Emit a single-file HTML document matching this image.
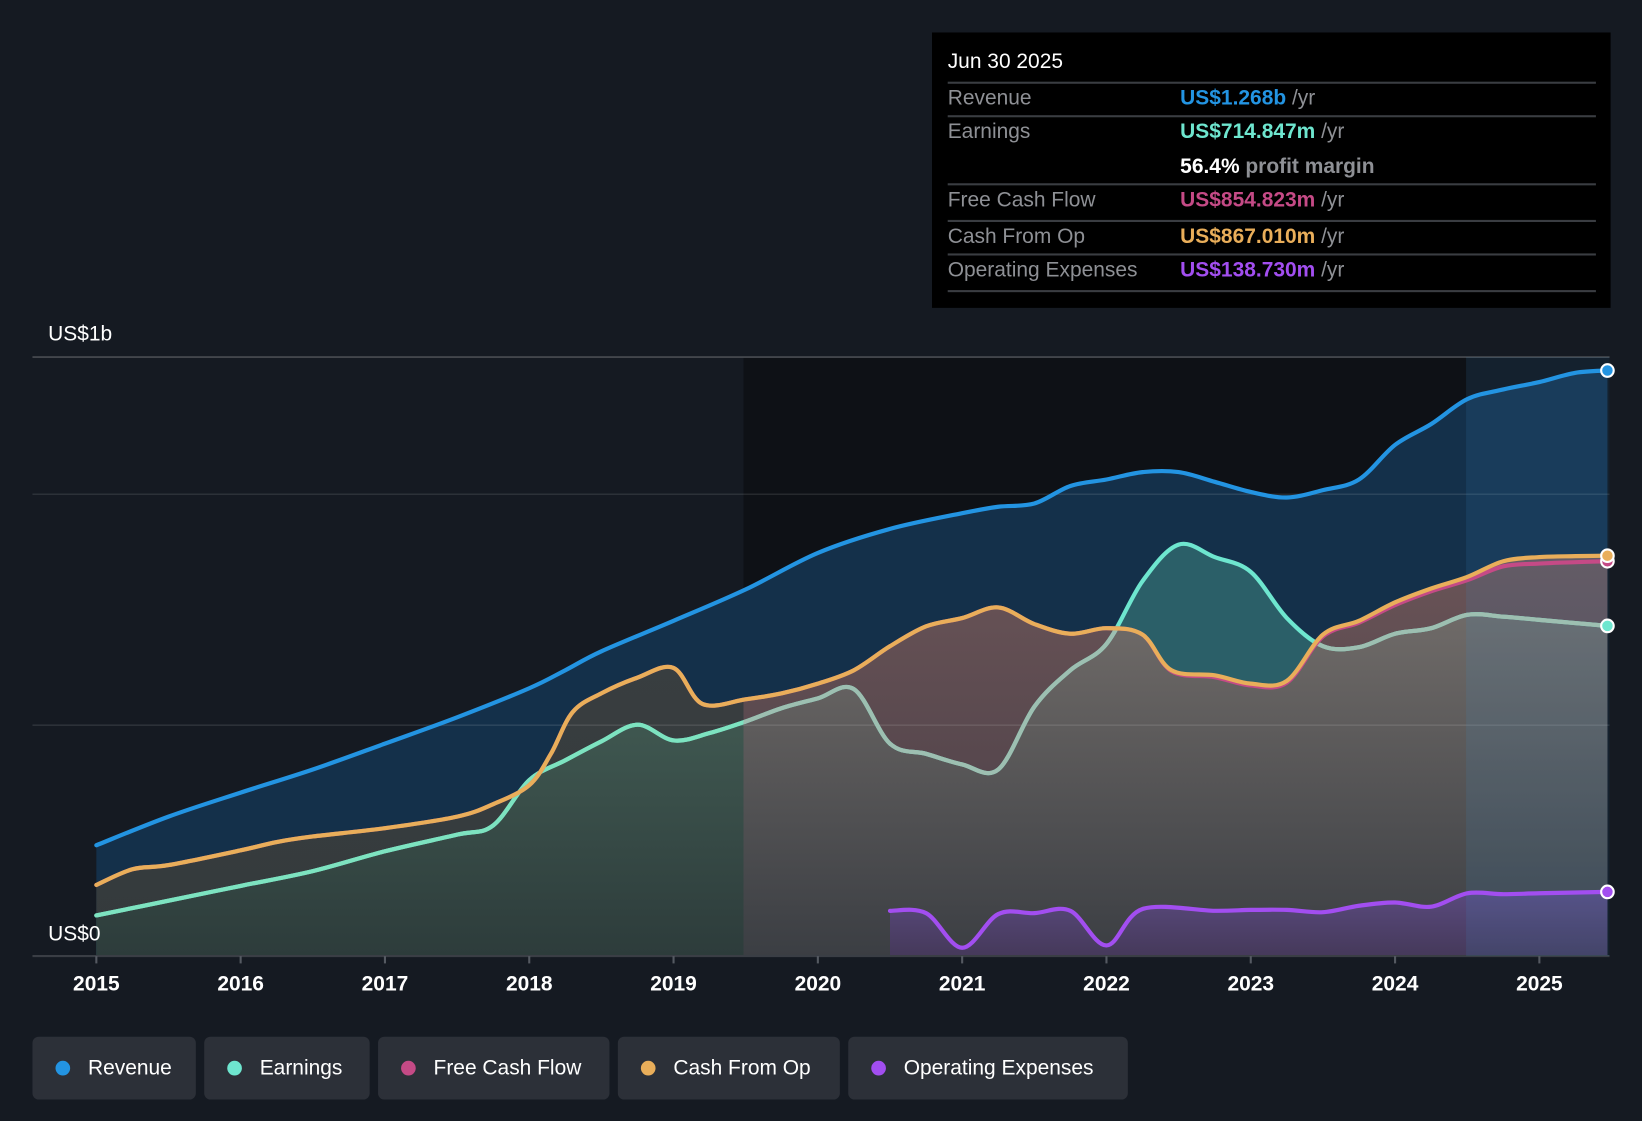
<!DOCTYPE html>
<html><head><meta charset="utf-8">
<style>
html,body{margin:0;padding:0;background:#151a22;width:1642px;height:1120px;overflow:hidden;font-family:"Liberation Sans",sans-serif;}
#wrap{position:absolute;left:0;top:0;width:1568px;height:1070px;transform:scale(1.04719);transform-origin:0 0;}
#tip{position:absolute;left:890px;top:31px;width:648px;height:263px;background:#000;}
#tip .row{position:absolute;left:15px;width:619px;border-top:2px solid #3a3d42;font-size:20px;color:#8e9095;}
#tip .lab{position:absolute;left:0;top:3px;}
#tip .val{position:absolute;left:222px;top:3px;font-weight:bold;}
#tip .u{color:#8e9095;font-weight:normal;}
.leg{position:absolute;top:990px;height:60px;background:#2c3038;border-radius:6px;color:#fff;font-size:20px;line-height:60px;}
.leg .dot{position:absolute;left:22px;top:23px;width:14px;height:14px;border-radius:50%;}
.leg span.t{position:absolute;left:53px;}
</style></head><body>
<div id="wrap">
<svg id="chart" width="1568" height="1070" style="position:absolute;left:0;top:0"></svg>
<div id="tip">
 <div style="position:absolute;left:15px;top:17px;color:#fff;font-size:20px;">Jun 30 2025</div>
 <div class="row" style="top:47px;height:32px"><span class="lab">Revenue</span><span class="val" style="color:#2394e2">US$1.268b <span class="u">/yr</span></span></div>
 <div class="row" style="top:79px;height:96px"><span class="lab">Earnings</span><span class="val" style="color:#6ee6cf">US$714.847m <span class="u">/yr</span></span><span class="val" style="top:36px;color:#fff">56.4% <span class="u" style="font-weight:bold">profit margin</span></span></div>
 <div class="row" style="top:144px;height:32px"><span class="lab">Free Cash Flow</span><span class="val" style="color:#c54a86">US$854.823m <span class="u">/yr</span></span></div>
 <div class="row" style="top:179px;height:32px"><span class="lab">Cash From Op</span><span class="val" style="color:#e9ae5a">US$867.010m <span class="u">/yr</span></span></div>
 <div class="row" style="top:211px;height:33px;border-bottom:2px solid #3a3d42"><span class="lab">Operating Expenses</span><span class="val" style="color:#a24ef0">US$138.730m <span class="u">/yr</span></span></div>
</div>
<div class="leg" style="left:31px;width:156px"><div class="dot" style="background:#2394e2"></div><span class="t">Revenue</span></div>
<div class="leg" style="left:195px;width:158px"><div class="dot" style="background:#6ee6cf"></div><span class="t">Earnings</span></div>
<div class="leg" style="left:361px;width:221px"><div class="dot" style="background:#c54a86"></div><span class="t">Free Cash Flow</span></div>
<div class="leg" style="left:590px;width:212px"><div class="dot" style="background:#e9ae5a"></div><span class="t">Cash From Op</span></div>
<div class="leg" style="left:810px;width:267px"><div class="dot" style="background:#a24ef0"></div><span class="t">Operating Expenses</span></div>
</div>
<script>
const revT=[2015,2015.5,2016,2016.5,2017,2017.5,2018,2018.25,2018.5,2019,2019.5,2020,2020.5,2021,2021.25,2021.5,2021.75,2022,2022.25,2022.5,2022.75,2023,2023.25,2023.5,2023.75,2024,2024.25,2024.5,2024.75,2025,2025.25,2025.5];
const revV=[240,302,354,404,460,517,580,619,660,726,794,873,925,959,973,980,1018,1032,1048,1048,1027,1005,993,1009,1032,1107,1152,1206,1227,1243,1263,1268];
const cfoT=[2015,2015.25,2015.5,2016,2016.25,2016.5,2017,2017.5,2017.75,2018,2018.15,2018.3,2018.5,2018.75,2019,2019.2,2019.5,2019.75,2020,2020.25,2020.5,2020.75,2021,2021.25,2021.5,2021.75,2022,2022.25,2022.45,2022.75,2023,2023.25,2023.5,2023.75,2024,2024.25,2024.5,2024.75,2025,2025.25,2025.5];
const cfoV=[154,188,197,229,247,259,277,302,329,370,438,528,569,603,624,546,556,569,590,619,671,714,732,755,719,698,710,696,619,608,590,596,696,726,766,796,821,855,864,866,867];
const fcfV=[154,188,197,229,247,259,277,302,329,370,438,528,569,603,624,546,556,569,590,619,671,714,732,755,719,698,710,696,617,604,586,592,692,722,760,790,814,844,850,853,855];
const earT=[2015,2015.5,2016,2016.5,2017,2017.5,2017.75,2018,2018.25,2018.5,2018.75,2019,2019.25,2019.5,2019.75,2020,2020.25,2020.5,2020.75,2021,2021.25,2021.5,2021.75,2022,2022.25,2022.5,2022.75,2023,2023.25,2023.5,2023.75,2024,2024.25,2024.5,2024.75,2025,2025.5];
const earV=[88,120,152,184,227,263,283,381,424,465,501,467,483,508,537,558,578,460,438,415,404,540,619,676,812,891,864,832,732,671,669,698,710,739,735,728,715];
const opxT=[2020.5,2020.75,2021,2021.25,2021.5,2021.75,2022,2022.25,2022.75,2023,2023.25,2023.5,2023.75,2024,2024.25,2024.5,2024.75,2025,2025.5];
const opxV=[98,93,18,91,93,98,23,102,98,100,100,95,109,116,107,136,134,136,139];
const xTicks=[2015,2016,2017,2018,2019,2020,2021,2022,2023,2024,2025];

const X=t=>92+(t-2015)*137.8, Y=v=>913-v*0.441;
const svg=document.getElementById('chart'),NS='http://www.w3.org/2000/svg';
function mk(tag,attrs,parent){const e=document.createElementNS(NS,tag);for(const k in attrs)e.setAttribute(k,attrs[k]);(parent||svg).appendChild(e);return e;}
function pts(T,V){return T.map((t,i)=>[Math.min(X(t),1535),Y(V[i])]);}
function curve(p){let d='M'+p[0][0]+','+p[0][1];for(let i=0;i<p.length-1;i++){const p0=p[i-1]||p[i],p1=p[i],p2=p[i+1],p3=p[i+2]||p2;
 const c1=[p1[0]+(p2[0]-p0[0])/6,p1[1]+(p2[1]-p0[1])/6],c2=[p2[0]-(p3[0]-p1[0])/6,p2[1]-(p3[1]-p1[1])/6];
 d+=` C${c1[0]},${c1[1]} ${c2[0]},${c2[1]} ${p2[0]},${p2[1]}`;}return d;}
function area(p){return curve(p)+` L${p[p.length-1][0]},913 L${p[0][0]},913 Z`;}
const defs=mk('defs',{});
function grad(id,c1,c2){const g=mk('linearGradient',{id,x1:0,y1:0,x2:0,y2:1},defs);mk('stop',{offset:0,'stop-color':c1},g);mk('stop',{offset:1,'stop-color':c2},g);}
grad('gCfo','#6a5457','#463c45');grad('gGray','#7a7470','#3b3e43');grad('gGreen','#4d6c60','#2d3c3b');grad('gOpx','#5a4a7e','#45395a');grad('gCfoL','#3a3f41','#343a3c');
const pRev=pts(revT,revV),pCfo=pts(cfoT,cfoV),pFcf=pts(cfoT,fcfV),pEar=pts(earT,earV),pOpx=pts(opxT,opxV);
const cp1=mk('clipPath',{id:'cpCfo'},defs);mk('path',{d:area(pCfo)},cp1);
const cpR=mk('clipPath',{id:'cpRight'},defs);mk('rect',{x:710,y:0,width:900,height:913},cpR);
const cpL=mk('clipPath',{id:'cpLeft'},defs);mk('rect',{x:0,y:0,width:710,height:913},cpL);

let e=mk('rect',{x:710,y:341,width:827,height:572,fill:'#0e1116'});
e=mk('path',{d:area(pRev),fill:'#14304a'});
e=mk('path',{d:area(pEar),fill:'#2b5f68'});
e=mk('path',{d:area(pCfo),fill:'url(#gCfo)','clip-path':'url(#cpRight)'});
e=mk('path',{d:area(pCfo),fill:'url(#gCfoL)','clip-path':'url(#cpLeft)'});
const gR=mk('g',{'clip-path':'url(#cpCfo)'});
e=mk('path',{d:area(pEar),fill:'url(#gGray)','clip-path':'url(#cpRight)'},gR);
e=mk('path',{d:area(pEar),fill:'url(#gGreen)','clip-path':'url(#cpLeft)'},gR);
e=mk('path',{d:area(pOpx),fill:'url(#gOpx)'});
[0,500,1000].forEach(v=>{const l=mk('line',{x1:31,x2:1537,y1:Y(v),y2:Y(v),stroke:v==0?'#3a3e45':'rgba(255,255,255,0.1)','stroke-width':v==0?2:1.5});});
e=mk('line',{x1:31,x2:1537,y1:341,y2:341,stroke:'#4a4d53','stroke-width':1.5});
e=mk('rect',{x:1400,y:341,width:137,height:572,fill:'rgba(60,150,210,0.13)'});
function line(p,c,name){const l=mk('path',{d:curve(p),fill:'none',stroke:c,'stroke-width':4,'stroke-linejoin':'round','stroke-linecap':'round'});return l;}
line(pRev,'#2394e2','revenue-line');
e=line(pEar,'#6ee6cf','earnings-line');
e=line(pEar,'#7de3c0','earnings-line-left');e.setAttribute('clip-path','url(#cpLeft)');
const gM=mk('g',{'clip-path':'url(#cpCfo)'});
e=mk('path',{d:curve(pEar),fill:'none',stroke:'#9dbfb1','stroke-width':4,'clip-path':'url(#cpRight)'},gM);
line(pFcf,'#c54a86','fcf-line');
line(pCfo,'#e9ae5a','cfo-line');
line(pOpx,'#a24ef0','opex-line');
[[pRev,'#2394e2','revenue-end-dot'],[pFcf,'#c54a86','fcf-end-dot'],[pCfo,'#e9ae5a','cfo-end-dot'],[pEar,'#6ee6cf','earnings-end-dot'],[pOpx,'#a24ef0','opex-end-dot']].forEach(([p,c,n])=>{const q=p[p.length-1];const d=mk('circle',{cx:q[0],cy:q[1],r:6,fill:c,stroke:'#fff','stroke-width':2});});
xTicks.forEach(t=>{const l=mk('line',{x1:X(t),x2:X(t),y1:913,y2:920,stroke:'#555a62','stroke-width':2});
 const tx=mk('text',{x:X(t),y:946,fill:'#fff','font-size':20,'font-weight':'bold','text-anchor':'middle','font-family':'Liberation Sans, sans-serif'});tx.textContent=t;});
e=mk('text',{x:46,y:325,fill:'#fff','font-size':20,'font-family':'Liberation Sans, sans-serif'});e.textContent='US$1b';
e=mk('text',{x:46,y:898,fill:'#fff','font-size':20,'font-family':'Liberation Sans, sans-serif'});e.textContent='US$0';
</script>
</body></html>
